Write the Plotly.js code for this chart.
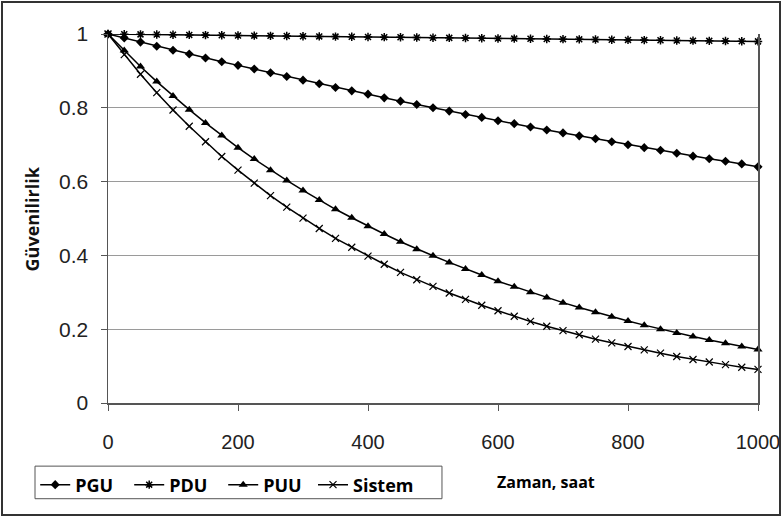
<!DOCTYPE html>
<html>
<head>
<meta charset="utf-8">
<script src="https://cdn.plot.ly/plotly-3.0.1.min.js"></script>
<style>
html,body{margin:0;padding:0;background:#fff;}
#wrap{position:relative;width:781px;height:516px;}
#chart{position:absolute;left:0;top:0;width:781px;height:516px;}
#frame{position:absolute;left:1px;top:1px;width:776px;height:511px;border:2px solid #333;pointer-events:none;}
</style>
</head>
<body>
<div id="wrap"><div id="chart"></div><div id="frame"></div></div>
<script>
// Time (hours)
const hours = [0,25,50,75,100,125,150,175,200,225,250,275,300,325,350,375,400,425,450,475,500,
  525,550,575,600,625,650,675,700,725,750,775,800,825,850,875,900,925,950,975,1000];

const PGU = [1.000,0.989,0.978,0.967,0.956,0.946,0.935,0.925,0.915,0.905,0.895,0.885,0.875,0.865,0.855,0.846,0.837,0.827,0.818,0.809,0.800,
  0.791,0.782,0.774,0.765,0.757,0.748,0.740,0.732,0.724,0.716,0.708,0.700,0.692,0.685,0.677,0.669,0.662,0.655,0.648,0.640];

const PDU = [1.000,0.9995,0.999,0.9985,0.998,0.9975,0.997,0.9965,0.996,0.9955,0.995,0.9945,0.994,0.9935,0.993,0.9925,0.992,0.9915,0.991,0.9905,0.990,
  0.9895,0.989,0.9885,0.988,0.9875,0.987,0.9865,0.986,0.9855,0.985,0.9845,0.984,0.9835,0.983,0.9825,0.982,0.9815,0.981,0.9805,0.980];

const PUU = [1.000,0.955,0.912,0.871,0.832,0.795,0.759,0.725,0.692,0.661,0.631,0.603,0.576,0.550,0.525,0.502,0.479,0.458,0.437,0.417,0.399,
  0.381,0.363,0.347,0.330,0.315,0.300,0.286,0.272,0.259,0.246,0.234,0.222,0.211,0.200,0.190,0.180,0.171,0.162,0.153,0.145];

const Sistem = [1.000,0.944,0.891,0.841,0.794,0.750,0.708,0.668,0.631,0.596,0.562,0.531,0.501,0.473,0.446,0.422,0.398,0.376,0.354,0.334,0.316,
  0.298,0.281,0.265,0.250,0.235,0.221,0.208,0.196,0.185,0.173,0.163,0.153,0.144,0.135,0.126,0.118,0.111,0.104,0.097,0.091];

const seriesNames = ["PGU","PDU","PUU","Sistem"];
const xTickVals = [0,200,400,600,800,1000];
const xTickText = ["0","200","400","600","800","1000"];
const yTickVals = [0,0.2,0.4,0.6,0.8,1];
const yTickText = ["0","0.2","0.4","0.6","0.8","1"];
const xTitle = "Zaman, saat";
const yTitle = "Güvenilirlik";

const styles = [
  {symbol:"diamond", size:7, mline:{width:0,color:"#000"}, legend:"legend"},
  {symbol:"asterisk-open", size:7, mline:{width:1.5,color:"#000"}, legend:"legend"},
  {symbol:"triangle-up", size:8, mline:{width:0,color:"#000"}, legend:"legend"},
  {symbol:"x-thin-open", size:7, mline:{width:1.2,color:"#000"}, legend:"legend2"}
];
const values = [PGU, PDU, PUU, Sistem];

const traces = values.map((v,i)=>({
  x: hours, y: v, name: seriesNames[i], type: "scatter", mode: "lines+markers",
  line: {color:"#000", width:1.5},
  marker: {symbol: styles[i].symbol, size: styles[i].size, color:"#000", line: styles[i].mline},
  cliponaxis: false, legend: styles[i].legend
}));

const legendFont = {family: "Open Sans, sans-serif", size: 18, color: "#000", weight: "bold"};

const layout = {
  width: 781, height: 516,
  margin: {l:108, r:23, t:34, b:108},
  paper_bgcolor: "#fff", plot_bgcolor: "#fff",
  font: {family: "Liberation Sans, Arial, sans-serif", color: "#222"},
  showlegend: true,
  legend: {
    orientation: "h", x: -0.112, y: -0.172, xanchor: "left", yanchor: "top",
    borderwidth: 0, bgcolor: "rgba(255,255,255,0)", font: legendFont,
    entrywidth: 49, entrywidthmode: "pixels", itemwidth: 30, tracegroupgap: 0
  },
  legend2: {
    orientation: "h", x: 0.3154, y: -0.172, xanchor: "left", yanchor: "top",
    borderwidth: 0, bgcolor: "rgba(255,255,255,0)", font: legendFont,
    itemwidth: 30, tracegroupgap: 0
  },
  xaxis: {
    range: [0, 1000], tickvals: xTickVals, ticktext: xTickText,
    showgrid: false, zeroline: false, showline: true, linecolor: "#555", linewidth: 1.5,
    ticks: "outside", ticklen: 6, tickcolor: "#555", ticklabelstandoff: 14,
    tickfont: {size: 20, color: "#222"}
  },
  yaxis: {
    range: [0, 1], tickvals: yTickVals, ticktext: yTickText,
    showgrid: true, gridcolor: "#9a9a9a", gridwidth: 1, zeroline: false,
    showline: true, linecolor: "#555", linewidth: 1.5, mirror: true,
    ticks: "outside", ticklen: 6, tickcolor: "#555", ticklabelstandoff: 8,
    tickfont: {size: 21, color: "#222"}
  },
  shapes: [
    {type: "rect", xref: "paper", yref: "paper", x0: -0.1123, x1: 0.5138, y0: -0.1711, y1: -0.2594,
     line: {color: "#555", width: 1}, fillcolor: "rgba(0,0,0,0)"}
  ],
  annotations: [
    {text: "<b>" + xTitle + "</b>", xref: "paper", yref: "paper", x: 0.595, y: -0.213,
     xanchor: "left", yanchor: "middle", showarrow: false,
     font: {family: "Open Sans, sans-serif", size: 16, color: "#000"}},
    {text: "<b>" + yTitle + "</b>", xref: "paper", yref: "paper", x: -0.117, y: 0.5,
     xanchor: "center", yanchor: "middle", textangle: -90, showarrow: false,
     font: {family: "Open Sans, sans-serif", size: 18, color: "#111"}}
  ]
};

Plotly.newPlot("chart", traces, layout, {displayModeBar: false, staticPlot: true});
</script>
</body>
</html>
